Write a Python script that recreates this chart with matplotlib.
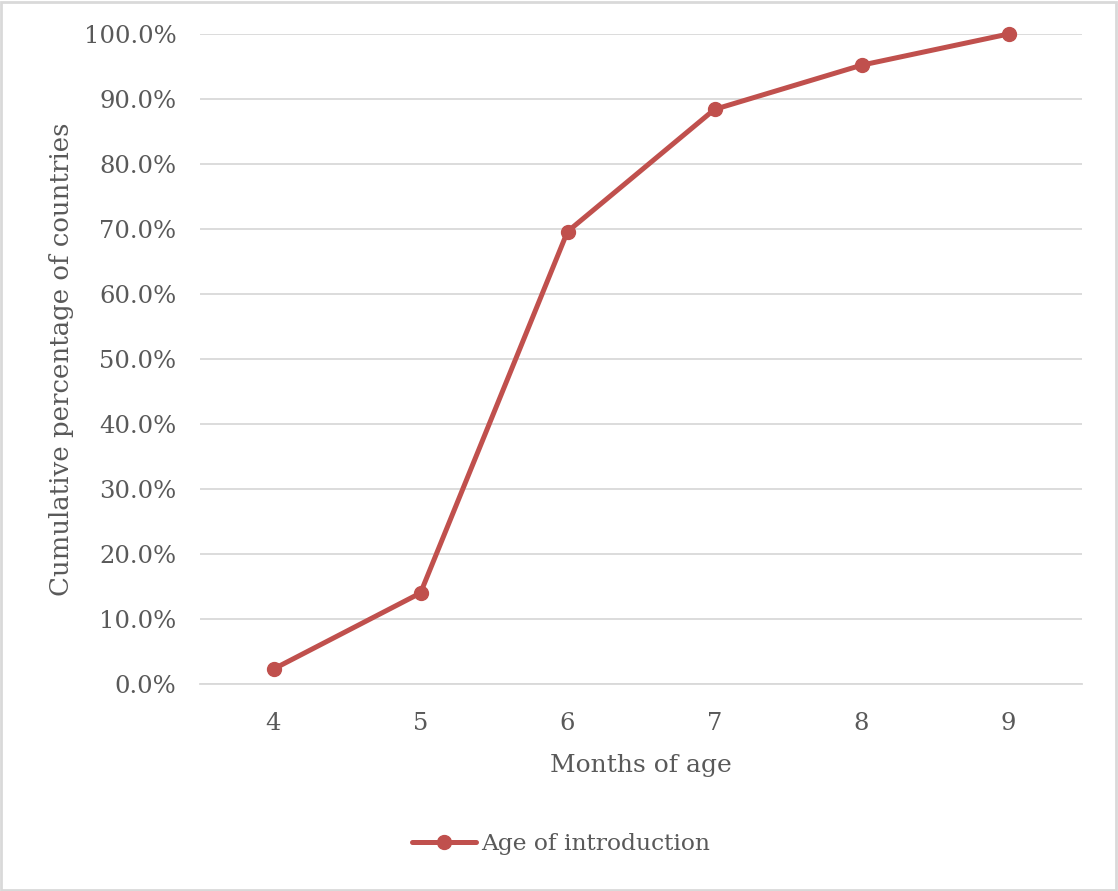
import matplotlib
matplotlib.use("Agg")
import matplotlib.pyplot as plt
from matplotlib.patches import Rectangle
from matplotlib.ticker import PercentFormatter

months = [4, 5, 6, 7, 8, 9]
cumulative_pct = [2.3, 14.0, 69.6, 88.4, 95.2, 100.0]
y_ticks = [0, 10, 20, 30, 40, 50, 60, 70, 80, 90, 100]
series_name = "Age of introduction"
x_label = "Months of age"
y_label = "Cumulative percentage of countries"

line_color = "#C0504D"
text_color = "#595959"
grid_color = "#D9D9D9"

plt.rcParams["font.family"] = ["DejaVu Serif"]

fig = plt.figure(figsize=(11.18, 8.91), dpi=100)
ax = fig.add_axes([200 / 1118, 1 - 684 / 891, 882 / 1118, 650 / 891])

x_pos = list(range(len(months)))
ax.plot(x_pos, cumulative_pct, color=line_color, lw=3.6, marker="o",
        markersize=10, label=series_name, solid_capstyle="round",
        clip_on=False, zorder=3)

ax.set_xlim(-0.5, len(months) - 0.5)
ax.set_ylim(0, 100)
ax.set_xticks(x_pos)
ax.set_xticklabels([str(m) for m in months])
ax.set_yticks(y_ticks)
ax.yaxis.set_major_formatter(PercentFormatter(decimals=1))

ax.grid(axis="y", color=grid_color, lw=1.3)
ax.set_axisbelow(True)
for s in ["top", "right", "left"]:
    ax.spines[s].set_visible(False)
ax.spines["bottom"].set_color(grid_color)
ax.spines["bottom"].set_linewidth(1.3)

ax.tick_params(axis="both", length=0, labelsize=17.5, colors=text_color)
ax.tick_params(axis="y", pad=17)
ax.tick_params(axis="x", pad=20)

ax.set_xlabel(x_label, fontsize=18, color=text_color, labelpad=14)
ax.set_ylabel(y_label, fontsize=18.7, color=text_color, labelpad=7)

leg = fig.legend(loc="center", bbox_to_anchor=(561 / 1118, 1 - 844 / 891),
                 frameon=False, fontsize=16.8, handlelength=2.75,
                 handletextpad=0.25)
for t in leg.get_texts():
    t.set_color(text_color)

fig.patches.append(Rectangle((0.001, 0.001), 0.997, 0.997, transform=fig.transFigure,
                             fill=False, edgecolor=grid_color, lw=2))

fig.savefig("out.png", dpi=100, facecolor="white")
